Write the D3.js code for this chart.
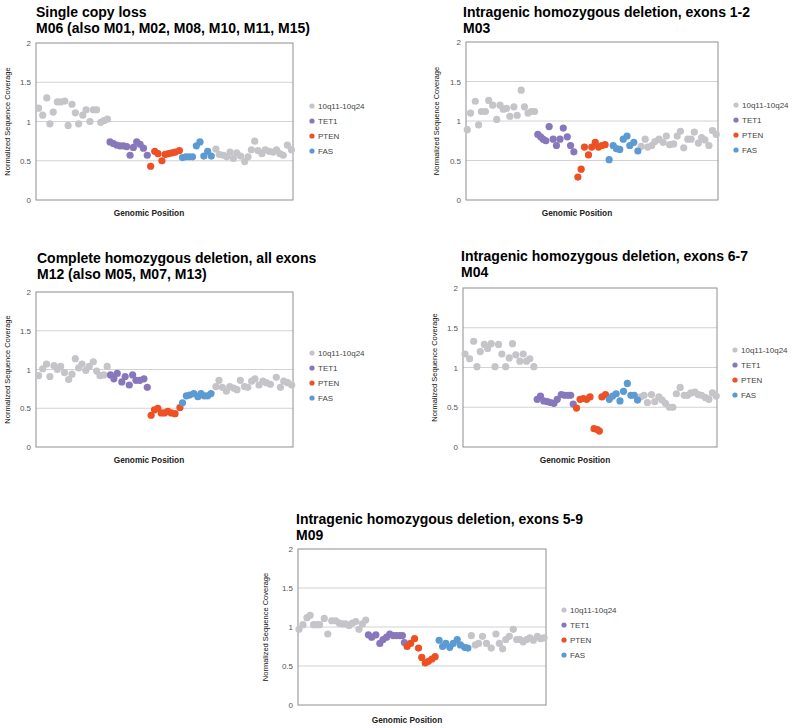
<!DOCTYPE html>
<html>
<head>
<meta charset="UTF-8">
<style>
  body { margin: 0; background: #ffffff; }
  svg text { font-family: "Liberation Sans", Arial, sans-serif; }
</style>
<script src="https://d3js.org/d3.v7.min.js"></script>
</head>
<body>
<svg id="fig" width="800" height="728"></svg>
<script>
// series names and colours (legend order)
var seriesNames = ["10q11-10q24", "TET1", "PTEN", "FAS"];
var seriesColors = ["#c4c4c9", "#8878bb", "#ee5024", "#5b9ad3"];
var yTicks = [0, 0.5, 1, 1.5, 2];

// each point is [genomic position (0-100), normalized coverage]
// --- M06 single copy loss
var m06Region = [[1.0,1.17],[2.6,1.08],[4.2,1.30],[5.4,0.97],[6.7,1.12],[8.3,1.25],[9.6,1.25],[11.2,1.26],[12.5,0.95],[14.0,1.22],
  [15.3,1.11],[16.6,0.97],[18.2,1.08],[19.5,1.15],[21.0,1.00],[22.3,1.15],[23.6,1.15],[25.2,0.99],[26.5,1.01],[27.8,1.03],
  [70.0,0.65],[71.3,0.58],[72.9,0.57],[74.2,0.55],[75.5,0.61],[76.8,0.53],[78.1,0.60],[79.6,0.56],[81.2,0.49],[82.5,0.55],
  [83.8,0.64],[85.1,0.75],[86.4,0.63],[87.9,0.59],[89.2,0.64],[90.8,0.62],[92.3,0.61],[93.6,0.64],[94.9,0.59],[96.2,0.57],[97.8,0.70],[99.4,0.64]];
var m06Tet1 = [[28.8,0.74],[30.1,0.72],[31.4,0.70],[32.7,0.69],[34.0,0.69],[35.3,0.68],[36.6,0.57],[37.9,0.67],[39.2,0.74],[40.5,0.71],[41.8,0.66],[43.3,0.57]];
var m06Pten = [[44.6,0.43],[46.2,0.62],[47.5,0.59],[49.0,0.50],[50.3,0.58],[51.6,0.59],[52.9,0.60],[54.2,0.61],[55.8,0.63]];
var m06Fas = [[57.0,0.54],[58.3,0.55],[59.6,0.55],[60.9,0.55],[62.4,0.69],[63.8,0.74],[65.3,0.56],[66.8,0.62],[68.2,0.56]];

// --- M03 intragenic deletion exons 1-2
var m03Region = [[0.5,0.89],[1.8,1.10],[3.7,1.25],[5.0,0.95],[6.1,1.12],[7.7,1.12],[9.0,1.26],[10.6,1.20],[12.2,1.02],[13.5,1.20],
  [14.8,1.15],[16.1,1.16],[17.4,1.06],[19.0,1.18],[20.3,1.07],[21.9,1.39],[23.2,1.18],[24.6,1.10],[25.9,1.12],[27.2,1.12],
  [69.5,0.68],[71.1,0.77],[72.1,0.67],[73.7,0.69],[75.0,0.74],[76.6,0.77],[78.2,0.73],[79.5,0.81],[80.8,0.70],[82.4,0.71],
  [83.8,0.81],[85.1,0.87],[86.4,0.66],[88.0,0.77],[89.3,0.77],[90.6,0.86],[92.2,0.72],[93.5,0.79],[94.8,0.76],[96.4,0.69],[97.8,0.88],[99.3,0.83]];
var m03Tet1 = [[28.5,0.83],[29.6,0.80],[30.6,0.77],[31.7,0.75],[33.0,0.93],[34.6,0.77],[35.9,0.69],[37.3,0.77],[38.6,0.91],[40.2,0.80],[41.5,0.69],[42.8,0.61]];
var m03Pten = [[44.4,0.29],[45.7,0.39],[47.0,0.67],[48.6,0.57],[49.9,0.67],[51.3,0.73],[52.6,0.67],[53.9,0.69],[55.2,0.70]];
var m03Fas = [[56.8,0.51],[58.4,0.69],[59.7,0.65],[61.0,0.64],[62.4,0.77],[63.9,0.81],[65.0,0.69],[66.6,0.73],[68.2,0.62]];

// --- M12 complete homozygous deletion
var m12Region = [[1.0,0.92],[2.6,1.01],[4.1,1.07],[5.4,0.91],[7.0,1.05],[8.3,1.00],[9.6,1.04],[11.1,0.96],[12.7,0.87],[14.0,0.94],
  [15.3,1.14],[16.6,1.02],[17.9,1.07],[19.4,0.99],[20.7,1.04],[22.3,1.10],[23.6,0.98],[24.9,0.92],[26.4,0.93],[27.7,1.04],
  [70.0,0.78],[71.2,0.86],[72.5,0.77],[74.1,0.72],[75.4,0.78],[76.9,0.76],[78.2,0.74],[79.5,0.86],[81.1,0.78],[82.4,0.77],
  [83.9,0.85],[85.2,0.88],[86.8,0.80],[88.3,0.85],[89.6,0.83],[91.2,0.81],[93.5,0.90],[95.1,0.77],[96.4,0.85],[97.9,0.83],[99.5,0.80]];
var m12Tet1 = [[29.0,0.93],[30.3,0.88],[31.6,0.95],[33.4,0.84],[34.7,0.91],[36.3,0.80],[37.6,0.93],[38.9,0.86],[40.4,0.86],[42.0,0.88],[43.3,0.77]];
var m12Pten = [[44.8,0.41],[46.1,0.48],[47.4,0.50],[48.7,0.44],[50.0,0.44],[51.3,0.46],[52.6,0.44],[54.1,0.43],[56.0,0.51]];
var m12Fas = [[57.0,0.57],[58.5,0.66],[59.8,0.67],[61.4,0.69],[63.0,0.65],[64.2,0.69],[65.5,0.66],[66.8,0.66],[68.1,0.69]];

// --- M04 intragenic deletion exons 6-7
var m04Region = [[0.8,1.17],[2.6,1.11],[4.2,1.33],[5.5,1.01],[6.8,1.20],[8.4,1.29],[9.7,1.24],[11.1,1.30],[12.6,1.01],[14.0,1.29],
  [15.3,1.17],[16.8,1.01],[18.2,1.12],[19.5,1.30],[20.8,1.16],[22.4,1.08],[23.7,1.17],[25.0,1.08],[26.3,1.11],[27.9,1.01],
  [70.0,0.63],[71.3,0.65],[72.6,0.56],[74.2,0.66],[75.5,0.57],[77.1,0.63],[78.4,0.59],[79.7,0.55],[81.3,0.50],[82.6,0.50],
  [84.0,0.67],[85.5,0.75],[87.1,0.65],[88.4,0.65],[89.7,0.68],[91.3,0.69],[92.6,0.66],[93.9,0.65],[95.5,0.62],[96.8,0.60],[98.2,0.68],[99.7,0.64]];
var m04Tet1 = [[29.2,0.60],[30.5,0.64],[31.8,0.58],[33.2,0.57],[34.5,0.56],[35.8,0.55],[37.1,0.60],[38.7,0.66],[40.0,0.65],[41.3,0.65],[42.4,0.65],[43.4,0.54]];
var m04Pten = [[44.7,0.49],[46.1,0.60],[47.4,0.61],[48.7,0.60],[50.0,0.63],[51.6,0.23],[52.9,0.22],[53.7,0.20],[54.7,0.63],[56.1,0.66]];
var m04Fas = [[57.6,0.60],[58.9,0.64],[60.3,0.67],[61.8,0.58],[63.2,0.70],[64.7,0.80],[66.1,0.65],[67.4,0.65],[68.7,0.59]];

// --- M09 intragenic deletion exons 5-9
var m09Region = [[0.4,0.97],[2.0,1.03],[3.6,1.12],[4.9,1.15],[6.3,1.03],[7.7,1.03],[8.7,1.03],[10.6,1.11],[12.0,0.91],[13.6,1.08],
  [15.2,1.08],[16.6,1.05],[17.9,1.04],[19.2,1.04],[20.6,1.02],[21.9,1.05],[23.3,1.07],[24.6,0.97],[26.0,1.04],[27.3,1.09],
  [69.9,0.89],[71.5,0.77],[72.8,0.79],[74.4,0.88],[76.0,0.79],[77.9,0.73],[79.8,0.91],[81.2,0.79],[82.5,0.72],[83.8,0.84],
  [85.2,0.88],[86.8,0.97],[88.2,0.84],[89.5,0.84],[90.8,0.81],[92.2,0.84],[93.5,0.86],[94.9,0.83],[96.5,0.88],[97.8,0.85],[99.2,0.86]];
var m09Tet1 = [[28.4,0.90],[29.7,0.87],[31.4,0.90],[33.0,0.79],[34.3,0.84],[35.7,0.87],[37.0,0.91],[38.4,0.89],[39.7,0.89],[41.0,0.89],[42.1,0.89],[42.9,0.80]];
var m09Pten = [[44.0,0.75],[45.4,0.79],[47.0,0.85],[48.6,0.73],[49.9,0.61],[51.3,0.54],[52.6,0.56],[54.0,0.59],[55.3,0.62]];
var m09Fas = [[56.9,0.83],[58.3,0.75],[59.6,0.79],[61.2,0.74],[62.6,0.79],[64.2,0.84],[65.5,0.77],[67.2,0.74],[68.5,0.73]];

var titles = [
  ["Single copy loss", "M06 (also M01, M02, M08, M10, M11, M15)"],
  ["Intragenic homozygous deletion, exons 1-2", "M03"],
  ["Complete homozygous deletion, all exons", "M12 (also M05, M07, M13)"],
  ["Intragenic homozygous deletion, exons 6-7", "M04"],
  ["Intragenic homozygous deletion, exons 5-9", "M09"]
];

// panel geometry on the page
var panels = [
  {series: [m06Region, m06Tet1, m06Pten, m06Fas], title: titles[0], l: 36, r: 293, t: 43, b: 200, tx: 36, ty: 17, yl: 10, xl: 149, xly: 216, lx: 312, ly: 106},
  {series: [m03Region, m03Tet1, m03Pten, m03Fas], title: titles[1], l: 466, r: 718, t: 42, b: 200, tx: 463, ty: 17, yl: 439, xl: 577, xly: 216, lx: 736, ly: 105},
  {series: [m12Region, m12Tet1, m12Pten, m12Fas], title: titles[2], l: 36, r: 293, t: 292, b: 447, tx: 37, ty: 263, yl: 10, xl: 149, xly: 463, lx: 312, ly: 353},
  {series: [m04Region, m04Tet1, m04Pten, m04Fas], title: titles[3], l: 463, r: 717, t: 288, b: 447, tx: 461, ty: 261, yl: 437, xl: 575, xly: 463, lx: 735, ly: 350},
  {series: [m09Region, m09Tet1, m09Pten, m09Fas], title: titles[4], l: 298, r: 546, t: 549, b: 705, tx: 296, ty: 524, yl: 268, xl: 407, xly: 723, lx: 564, ly: 610}
];

var svg = d3.select("#fig");

panels.forEach(function(p) {
  var g = svg.append("g");
  var x = d3.scaleLinear().domain([0, 100]).range([p.l, p.r]);
  var y = d3.scaleLinear().domain([0, 2]).range([p.b, p.t]);

  // title, two lines
  g.selectAll("text.title").data(p.title).enter()
    .append("text")
    .attr("x", p.tx)
    .attr("y", function(d, i) { return p.ty + i * 16; })
    .attr("font-size", 14)
    .attr("font-weight", "bold")
    .attr("fill", "#000")
    .text(function(d) { return d; });

  // gridlines
  g.selectAll("line.grid").data(yTicks.slice(1, -1)).enter()
    .append("line")
    .attr("x1", p.l).attr("x2", p.r)
    .attr("y1", function(d) { return y(d); })
    .attr("y2", function(d) { return y(d); })
    .attr("stroke", "#d2d2d2")
    .attr("stroke-width", 1);

  // plot frame
  g.append("rect")
    .attr("x", p.l).attr("y", p.t)
    .attr("width", p.r - p.l).attr("height", p.b - p.t)
    .attr("fill", "none")
    .attr("stroke", "#8e8e8e")
    .attr("stroke-width", 1);

  // y axis labels
  var yAxis = g.append("g")
    .attr("transform", "translate(" + p.l + ",0)")
    .call(d3.axisLeft(y).tickValues(yTicks).tickSize(0).tickPadding(5).tickFormat(d3.format("~g")));
  yAxis.select(".domain").remove();
  yAxis.selectAll("text")
    .attr("font-family", "'DejaVu Sans', sans-serif")
    .attr("font-size", 8)
    .attr("fill", "#555");

  g.append("text")
    .attr("transform", "translate(" + p.yl + "," + ((p.t + p.b) / 2) + ") rotate(-90)")
    .attr("text-anchor", "middle")
    .attr("font-size", 7.5)
    .attr("fill", "#111")
    .text("Normalized Sequence Coverage");

  g.append("text")
    .attr("x", p.xl).attr("y", p.xly)
    .attr("text-anchor", "middle")
    .attr("font-size", 8.3)
    .attr("font-weight", "bold")
    .attr("fill", "#222")
    .text("Genomic Position");

  // points
  p.series.forEach(function(pts, si) {
    g.append("g").selectAll("circle").data(pts).enter()
      .append("circle")
      .attr("cx", function(d) { return x(d[0]); })
      .attr("cy", function(d) { return y(d[1]); })
      .attr("r", 3.6)
      .attr("fill", seriesColors[si]);
  });

  // legend
  var leg = g.selectAll("g.leg").data(seriesNames).enter()
    .append("g")
    .attr("transform", function(d, i) { return "translate(" + p.lx + "," + (p.ly + i * 15) + ")"; });
  leg.append("circle").attr("r", 2.6).attr("fill", function(d, i) { return seriesColors[i]; });
  leg.append("text")
    .attr("x", 6).attr("y", 3)
    .attr("font-family", "'DejaVu Sans', sans-serif")
    .attr("font-size", 8)
    .attr("fill", "#444")
    .text(function(d) { return d; });
});
</script>
</body>
</html>
